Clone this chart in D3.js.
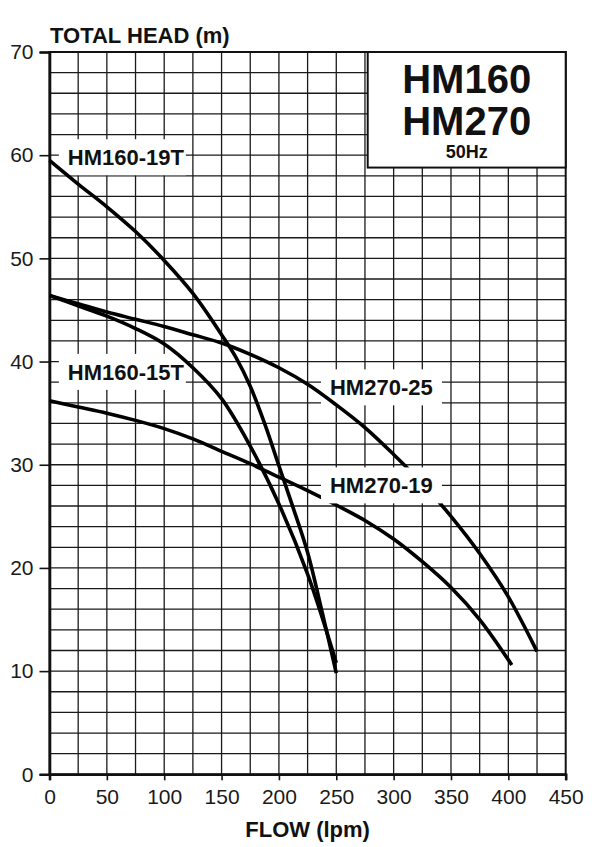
<!DOCTYPE html>
<html lang="en">
<head>
<meta charset="UTF-8" />
<title>HM160 / HM270 pump curves</title>
<script src="https://cdn.jsdelivr.net/npm/d3@7"></script>
<style>
  body { margin: 0; background: #fff; }
  text { font-family: "Liberation Sans", Arial, sans-serif; }
</style>
</head>
<body>
<div id="chart"></div>
<script>
// curve readings (flow in lpm, head in m)
const flow19T = [0, 25, 50, 75, 100, 125, 150, 162.5, 175, 187.5, 200, 212.5, 225, 237.5, 250];
const head19T = [59.5, 57.2, 55.0, 52.6, 49.8, 46.6, 42.6, 40.4, 37.6, 34.0, 29.9, 25.8, 21.5, 15.8, 9.8];

const flow15T = [0, 25, 50, 75, 100, 125, 150, 175, 200, 225, 250];
const head15T = [46.4, 45.4, 44.4, 43.2, 41.7, 39.4, 36.4, 31.8, 26.2, 19.4, 10.8];

const flow27025 = [0, 25, 50, 75, 100, 125, 150, 175, 200, 225, 250, 275, 300, 325, 350, 375, 400, 425];
const head27025 = [46.4, 45.6, 44.8, 44.1, 43.4, 42.6, 41.8, 40.7, 39.4, 37.8, 35.8, 33.6, 31.0, 28.2, 25.0, 21.4, 17.2, 11.9];

const flow27019 = [0, 25, 50, 75, 100, 125, 150, 175, 200, 225, 250, 275, 300, 325, 350, 375, 403];
const head27019 = [36.2, 35.6, 35.0, 34.3, 33.5, 32.5, 31.3, 30.1, 28.8, 27.5, 26.1, 24.6, 22.8, 20.6, 18.1, 15.0, 10.6];

const xTicks = [0, 50, 100, 150, 200, 250, 300, 350, 400, 450];
const yTicks = [0, 10, 20, 30, 40, 50, 60, 70];

const series = [
  { name: "HM160-19T", flow: flow19T, head: head19T, label: [16, 59.8] },
  { name: "HM160-15T", flow: flow15T, head: head15T, label: [16, 39.0] },
  { name: "HM270-25", flow: flow27025, head: head27025, label: [244.5, 37.5] },
  { name: "HM270-19", flow: flow27019, head: head27019, label: [244.5, 28.0] }
];

const width = 600, height = 847;
const margin = { top: 52, right: 34.3, bottom: 72.7, left: 49.5 };

const svg = d3.select("#chart")
  .append("svg")
  .attr("width", width)
  .attr("height", height);

const x = d3.scaleLinear().domain([0, 450]).range([margin.left, width - margin.right]);
const y = d3.scaleLinear().domain([0, 70]).range([height - margin.bottom, margin.top]);

// grid, every 25 lpm and 2 m
const grid = svg.append("g").attr("stroke", "#1a1a1a").attr("stroke-width", 1.3);
grid.selectAll(".gx")
  .data(d3.range(25, 450, 25))
  .enter().append("line")
  .attr("x1", d => x(d)).attr("x2", d => x(d))
  .attr("y1", y(0)).attr("y2", y(70));
grid.selectAll(".gy")
  .data(d3.range(2, 70, 2))
  .enter().append("line")
  .attr("x1", x(0)).attr("x2", x(450))
  .attr("y1", d => y(d)).attr("y2", d => y(d));

// frame
svg.append("rect")
  .attr("x", x(0)).attr("y", y(70))
  .attr("width", x(450) - x(0)).attr("height", y(0) - y(70))
  .attr("fill", "none").attr("stroke", "#111").attr("stroke-width", 2);

// axes
const xAxis = svg.append("g")
  .attr("transform", `translate(0,${y(0)})`)
  .call(d3.axisBottom(x).tickValues(xTicks).tickSize(6).tickPadding(9));
const yAxis = svg.append("g")
  .attr("transform", `translate(${x(0)},0)`)
  .call(d3.axisLeft(y).tickValues(yTicks).tickSize(10).tickPadding(6));

[xAxis, yAxis].forEach(a => {
  a.select(".domain").attr("stroke", "#111").attr("stroke-width", 2.6);
  a.selectAll(".tick line").attr("stroke", "#111").attr("stroke-width", 1.6);
  a.selectAll(".tick text")
    .attr("font-size", 21)
    .attr("font-family", "'Liberation Sans', Arial, sans-serif")
    .attr("fill", "#1a1a1a");
});

// curve labels with white backing
function drawLabels(list) {
  const g = svg.selectAll(null)
    .data(list)
    .enter().append("g")
    .attr("transform", s => `translate(${x(s.label[0])},${y(s.label[1])})`);
  g.append("rect")
    .attr("x", -9).attr("y", -18)
    .attr("width", s => s.name.length > 8 ? 127 : 121)
    .attr("height", 36)
    .attr("fill", "#fff");
  g.append("text")
    .attr("y", 8)
    .attr("font-size", 22)
    .attr("font-weight", "bold")
    .attr("fill", "#111")
    .text(s => s.name);
}

// HM270-19 label sits over the HM270-25 curve, the rest sit under the curves
drawLabels(series.filter(s => s.name !== "HM270-19"));

const line = d3.line()
  .x(d => x(d[0]))
  .y(d => y(d[1]))
  .curve(d3.curveCatmullRom.alpha(0.5));

svg.selectAll(".curve")
  .data(series)
  .enter().append("path")
  .attr("class", "curve")
  .attr("d", s => line(s.flow.map((f, i) => [f, s.head[i]])))
  .attr("fill", "none")
  .attr("stroke", "#000")
  .attr("stroke-width", 3.6);

drawLabels(series.filter(s => s.name === "HM270-19"));

// model box
const bx0 = x(277.4), by0 = y(70), bx1 = x(450), by1 = y(58.8);
svg.append("rect")
  .attr("x", bx0).attr("y", by0)
  .attr("width", bx1 - bx0).attr("height", by1 - by0)
  .attr("fill", "#fff").attr("stroke", "#111").attr("stroke-width", 2);
const cx = (bx0 + bx1) / 2;
svg.append("text").attr("x", cx).attr("y", 93).attr("text-anchor", "middle")
  .attr("font-size", 40).attr("font-weight", "bold").attr("fill", "#111").text("HM160");
svg.append("text").attr("x", cx).attr("y", 135).attr("text-anchor", "middle")
  .attr("font-size", 40).attr("font-weight", "bold").attr("fill", "#111").text("HM270");
svg.append("text").attr("x", cx).attr("y", 158).attr("text-anchor", "middle")
  .attr("font-size", 18).attr("font-weight", "bold").attr("fill", "#111").text("50Hz");

// axis titles
svg.append("text")
  .attr("x", 50).attr("y", 43)
  .attr("font-size", 22).attr("font-weight", "bold").attr("fill", "#111")
  .text("TOTAL HEAD (m)");
svg.append("text")
  .attr("x", (x(0) + x(450)) / 2).attr("y", 837)
  .attr("text-anchor", "middle")
  .attr("font-size", 22).attr("font-weight", "bold").attr("fill", "#111")
  .text("FLOW (lpm)");
</script>
</body>
</html>
